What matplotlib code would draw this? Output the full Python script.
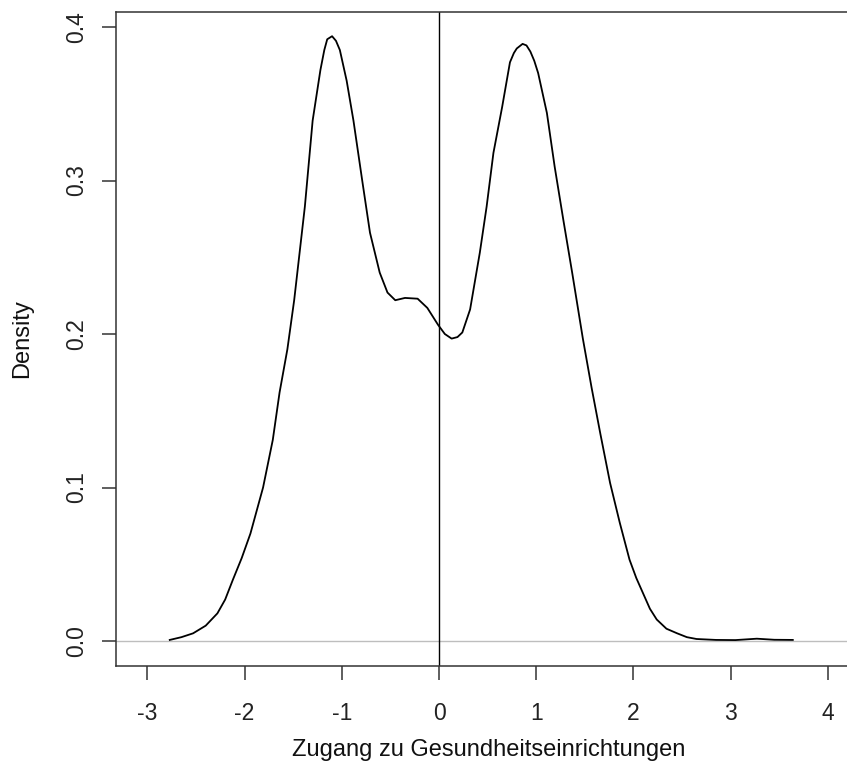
"""Kernel density of 'Zugang zu Gesundheitseinrichtungen' (R-style base plot)."""

import matplotlib

matplotlib.use("Agg")
import matplotlib.pyplot as plt

# density curve
grid_x = [
    -2.77, -2.65, -2.53, -2.40, -2.28, -2.20, -2.12, -2.03, -1.94, -1.81,
    -1.71, -1.64, -1.56, -1.49, -1.38, -1.30, -1.22, -1.18, -1.15, -1.10,
    -1.06, -1.02, -0.95, -0.88, -0.79, -0.71, -0.61, -0.53, -0.45, -0.35,
    -0.22, -0.12, -0.01, 0.06, 0.13, 0.19, 0.24, 0.32, 0.42, 0.49,
    0.56, 0.65, 0.73, 0.77, 0.80, 0.86, 0.90, 0.94, 0.98, 1.02,
    1.11, 1.19, 1.28, 1.37, 1.48, 1.57, 1.66, 1.76, 1.86, 1.96,
    2.03, 2.10, 2.17, 2.24, 2.34, 2.45, 2.55, 2.65, 2.85, 3.05,
    3.27, 3.45, 3.64,
]
density = [
    0.0007, 0.0025, 0.005, 0.010, 0.018, 0.027, 0.040, 0.054, 0.070, 0.100,
    0.131, 0.162, 0.190, 0.222, 0.283, 0.339, 0.372, 0.385, 0.392, 0.394,
    0.391, 0.385, 0.365, 0.339, 0.300, 0.266, 0.240, 0.227, 0.222, 0.2235,
    0.223, 0.217, 0.206, 0.200, 0.197, 0.198, 0.201, 0.216, 0.253, 0.283,
    0.318, 0.348, 0.377, 0.383, 0.386, 0.389, 0.388, 0.384, 0.378, 0.370,
    0.344, 0.309, 0.274, 0.240, 0.197, 0.165, 0.135, 0.103, 0.077, 0.053,
    0.041, 0.031, 0.021, 0.014, 0.008, 0.005, 0.0025, 0.0013, 0.0007, 0.0006,
    0.0015, 0.0008, 0.0007,
]
x_ticks = [-3, -2, -1, 0, 1, 2, 3, 4]
y_ticks = [0.0, 0.1, 0.2, 0.3, 0.4]
x_label = "Zugang zu Gesundheitseinrichtungen"
y_label = "Density"

plt.rcParams["font.family"] = ["Liberation Sans", "DejaVu Sans"]

W, H = 847, 780
fig = plt.figure(figsize=(W / 100, H / 100), dpi=100)
left, right, top, bottom = 116, 862, 12, 666
ax = fig.add_axes([left / W, 1 - bottom / H, (right - left) / W, (bottom - top) / H])

ax.axhline(0, color="#bebebe", lw=1.0, zorder=1)
ax.axvline(0, color="black", lw=1.0, zorder=1)
ax.plot(grid_x, density, color="black", lw=1.3, zorder=2)

ax.set_xlim((left - 439) / 97.2, (right - 439) / 97.2)
ax.set_ylim((641 - bottom) / 1535, (641 - top) / 1535)

ax.set_xticks(x_ticks)
ax.set_xticklabels([str(v) for v in x_ticks])
ax.set_yticks(y_ticks)
ax.set_yticklabels([f"{v:.1f}" for v in y_ticks], rotation=90, va="center")

for side in ax.spines.values():
    side.set_color("#333333")
    side.set_linewidth(1.1)
ax.tick_params(length=10, width=1.1, color="#333333", labelsize=16.5, labelcolor="#222222")
ax.tick_params(axis="x", pad=16)
ax.tick_params(axis="y", pad=10)

fig.text(489 / W, 1 - 750 / H, x_label, ha="center", va="center", fontsize=17, color="#111111")
fig.text(22 / W, 1 - 339 / H, y_label, ha="center", va="center", rotation=90,
         fontsize=17, color="#111111")

fig.savefig("out.png", dpi=100)
